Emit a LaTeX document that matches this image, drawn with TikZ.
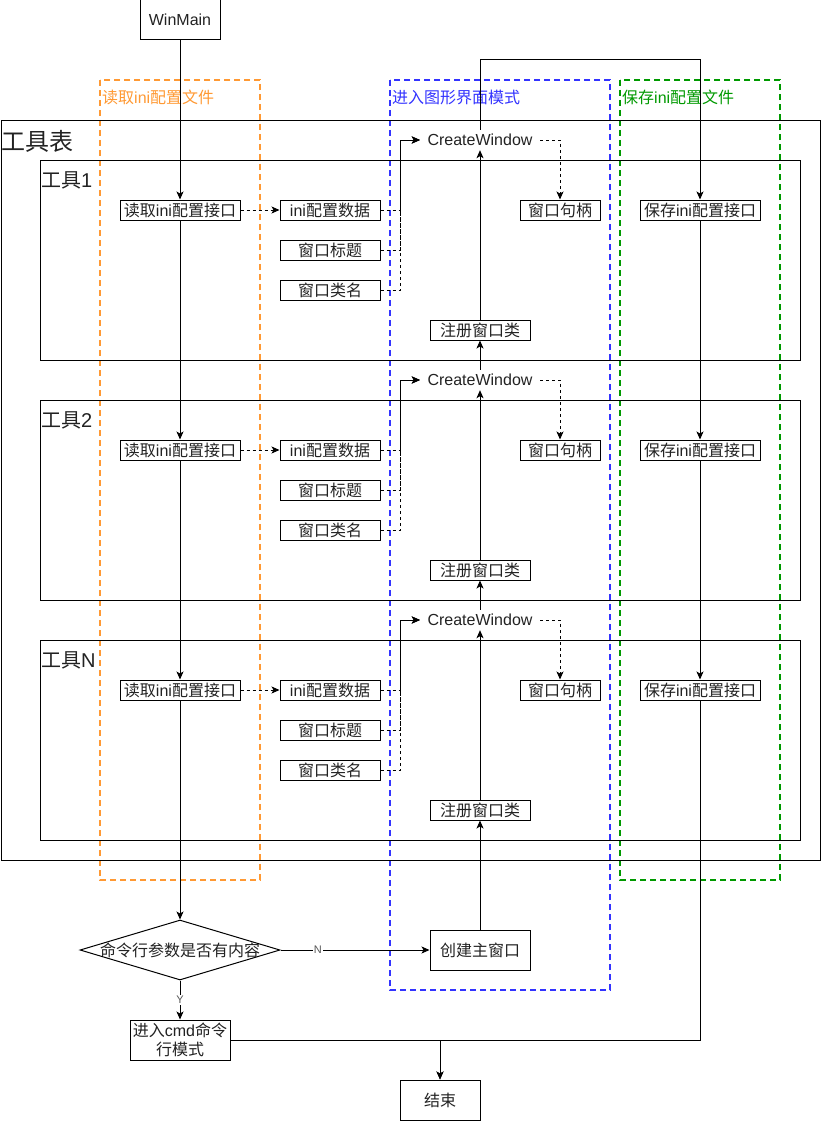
\documentclass[tikz,border=0pt]{standalone}
\usepackage{fontspec}
\setmainfont{Noto Sans CJK SC}
\newfontfamily\latf{Liberation Sans}
\newcommand\lat[1]{{\latf #1}}
\usetikzlibrary{shapes.geometric,arrows.meta}
\definecolor{lorange}{HTML}{FF9933}
\definecolor{lblue}{HTML}{3333FF}
\definecolor{lgreen}{HTML}{009900}
\definecolor{txt}{HTML}{222222}
\definecolor{lbl}{HTML}{555555}
\begin{document}
\begin{tikzpicture}[x=1pt,y=-1pt,
  font=\fontsize{16}{19}\selectfont,
  box/.style={draw, line width=1pt, inner sep=0pt, minimum height=20pt, text=txt},
  bigbox/.style={box, minimum height=40pt},
  cont/.style={draw, line width=1pt, anchor=north west, inner sep=0pt},
  arr/.style={-{Stealth[length=8pt,width=7pt,inset=2pt]}, line width=1pt},
  dsh/.style={arr, dash pattern=on 3pt off 3pt},
  lane/.style={line width=2pt, dash pattern=on 6pt off 4pt},
  lanelbl/.style={anchor=west, inner sep=0pt},
  edgelbl/.style={fill=white, inner sep=1pt, text=lbl, font=\latf\fontsize{11}{12}\selectfont},
]
\useasboundingbox (0,0) rectangle (821,1121);

% lanes
\draw[lane, lorange] (100,80) rectangle (260,880);
\draw[lane, lblue] (390,80) rectangle (610,990);
\draw[lane, lgreen] (620,80) rectangle (780,880);
\node[lanelbl, text=lorange] (l1) at (102,97) {读取\lat{ini}配置文件};
\node[lanelbl, text=lblue] (l2) at (392,97) {进入图形界面模式};
\node[lanelbl, text=lgreen] (l3) at (622,97) {保存\lat{ini}配置文件};

% tool table
\node[cont, minimum width=819pt, minimum height=740pt] (table) at (0.5,120) {};
\node[anchor=west, inner sep=0pt, text=txt, font=\fontsize{24}{26}\selectfont] (tablelbl) at (1,141) {工具表};

\foreach \i/\o in {1/0,2/240,N/480}{
  \node[cont, minimum width=760pt, minimum height=200pt] (tool\i) at (40,{160+\o}) {};
  \node[anchor=west, inner sep=0pt, text=txt, font=\fontsize{20}{22}\selectfont] (toollbl\i) at (41,{180+\o}) {工具\lat{\i}};
  \node[box, minimum width=120pt] (rd\i) at (180,{210+\o}) {读取\lat{ini}配置接口};
  \node[box, minimum width=100pt] (data\i) at (330,{210+\o}) {\lat{ini}配置数据};
  \node[box, minimum width=100pt] (title\i) at (330,{250+\o}) {窗口标题};
  \node[box, minimum width=100pt] (cls\i) at (330,{290+\o}) {窗口类名};
  \node[inner sep=0pt, minimum width=120pt, minimum height=20pt, text=txt] (cw\i) at (480,{140+\o}) {\lat{CreateWindow}};
  \node[box, minimum width=80pt] (hwnd\i) at (560,{210+\o}) {窗口句柄};
  \node[box, minimum width=120pt] (save\i) at (700,{210+\o}) {保存\lat{ini}配置接口};
  \node[box, minimum width=100pt] (reg\i) at (480,{330+\o}) {注册窗口类};
  \draw[dsh] (rd\i) -- (data\i);
  \draw[dsh] (data\i.east) -- ++(20,0) |- (cw\i.west);
  \draw[dsh] (title\i.east) -- ++(20,0) |- (cw\i.west);
  \draw[dsh] (cls\i.east) -- ++(20,0) |- (cw\i.west);
  \draw[dsh] (cw\i.east) -| (hwnd\i.north);
  \draw[arr] (reg\i) -- (cw\i);
}

\node[bigbox, minimum width=80pt] (winmain) at (180,20) {\lat{WinMain}};
\node[draw, line width=1pt, diamond, minimum width=200pt, minimum height=60pt, inner sep=0pt, text=txt] (dec) at (180,950) {\makebox[0pt]{命令行参数是否有内容}};
\node[bigbox, minimum width=100pt] (main) at (480,950) {创建主窗口};
\node[bigbox, minimum width=100pt, align=center, font=\fontsize{16}{19}\selectfont] (cmd) at (180,1040) {进入\lat{cmd}命令\\行模式};
\node[bigbox, minimum width=80pt] (end) at (440,1100) {结束};
\coordinate (top) at (480,60);
\coordinate (join) at (440,1040);

\draw[arr] (winmain) -- (rd1);
\draw[arr] (rd1) -- (rd2);
\draw[arr] (rd2) -- (rdN);
\draw[arr] (rdN) -- (dec);
\draw[arr] (dec.east) -- node[edgelbl, pos=0.25]{N} (main.west);
\draw[arr] (dec.south) -- node[edgelbl]{Y} (cmd.north);
\draw[arr] (main) -- (regN);
\draw[arr] (cwN) -- (reg2);
\draw[arr] (cw2) -- (reg1);
\draw[arr] (cw1.north) -- (top) -| (save1.north);
\draw[arr] (save1) -- (save2);
\draw[arr] (save2) -- (saveN);
\draw[arr] (saveN.south) |- (join) -- (end.north);
\draw[arr] (cmd.east) -| (end.north);
\end{tikzpicture}
\end{document}
